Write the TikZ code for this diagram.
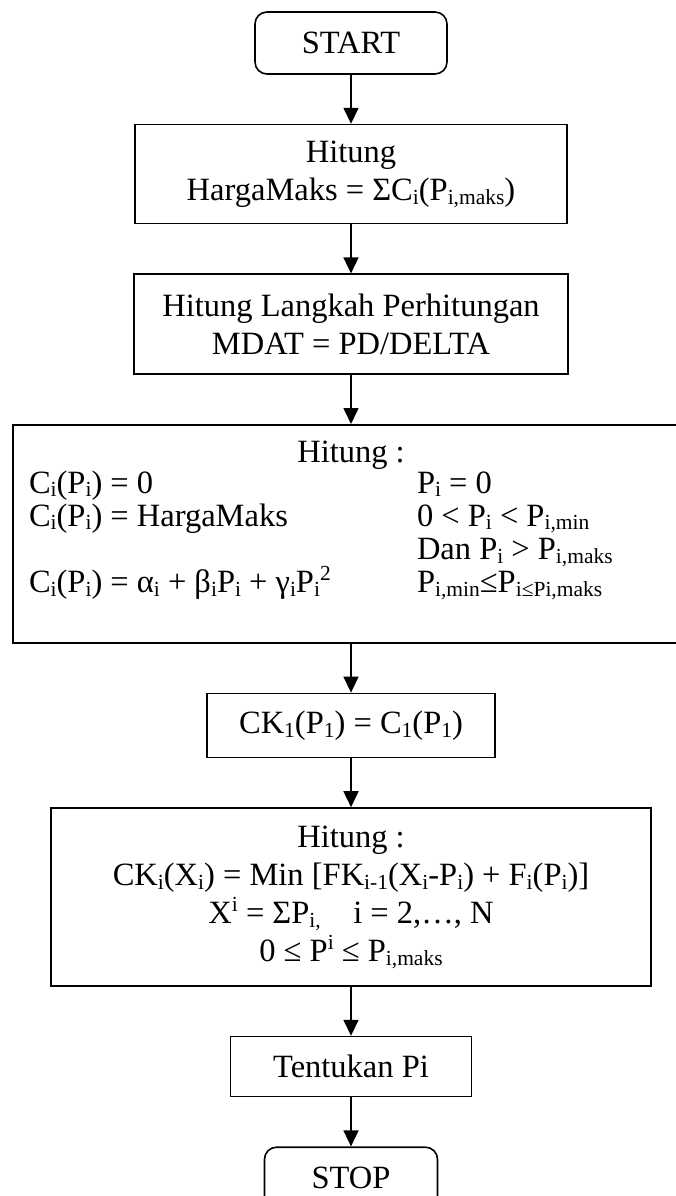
\documentclass[tikz,border=0pt]{standalone}
\usepackage{fontspec}
\setmainfont{Liberation Serif}
\usetikzlibrary{positioning,arrows.meta}

\newcommand{\lo}[1]{\raisebox{-0.12em}{\fontsize{21.5}{21.5}\selectfont #1}}
\newcommand{\up}[1]{\smash{\raisebox{0.36em}{\fontsize{21.5}{21.5}\selectfont #1}}}

\begin{document}
\begin{tikzpicture}[x=1pt, y=1pt, node distance=49pt, line width=1.6pt,
    font=\fontsize{32.5}{38}\selectfont,
    proc/.style = {draw, rectangle, align=center, inner sep=0pt},
    term/.style = {proc, rounded corners=12pt},
    txt/.style = {inner sep=0pt},
    arr/.style = {-{Triangle[width=15pt,length=16pt]}}]
    \clip (0,0) rectangle (676,-1196);

    \node[term, minimum width=192pt, minimum height=62pt] (start) at (351,-43) {START};
    \node[proc, minimum width=432pt, minimum height=99pt, below=of start] (hmaks)
        {Hitung\\HargaMaks = ΣC\lo{i}(P\lo{i,maks})};
    \node[proc, minimum width=434pt, minimum height=100pt, below=of hmaks] (langkah)
        {Hitung Langkah Perhitungan\\MDAT = PD/DELTA};
    \node[proc, minimum width=676pt, minimum height=218pt, below=of langkah] (calc) {};
    \node[txt, anchor=base] (calchd) at ([yshift=-38pt]calc.north) {Hitung :};
    \node[txt, anchor=base west] (calctab) at ([xshift=16pt, yshift=-69pt]calc.north west)
        {\renewcommand{\arraystretch}{0.87}%
         \begin{tabular}[t]{@{}p{388pt}@{}l@{}}
         C\lo{i}(P\lo{i}) = 0 & P\lo{i} = 0\\
         C\lo{i}(P\lo{i}) = HargaMaks & 0 < P\lo{i} < P\lo{i,min}\\
          & Dan P\lo{i} > P\lo{i,maks}\\
         C\lo{i}(P\lo{i}) = α\lo{i} + β\lo{i}P\lo{i} + γ\lo{i}P\lo{i}\up{2} & P\lo{i,min}≤P\lo{i≤Pi,maks}
         \end{tabular}};
    \node[proc, minimum width=288pt, minimum height=64pt, below=of calc] (ckone)
        {CK\lo{1}(P\lo{1}) = C\lo{1}(P\lo{1})};
    \node[proc, minimum width=600pt, minimum height=178pt, below=of ckone] (cki)
        {Hitung :\\CK\lo{i}(X\lo{i}) = Min [FK\lo{i-1}(X\lo{i}-P\lo{i}) + F\lo{i}(P\lo{i})]\\
         X\up{i} = ΣP\lo{i,}\quad i = 2,…, N\\
         0 ≤ P\up{i} ≤ P\lo{i,maks}};
    \node[proc, minimum width=241pt, minimum height=60pt, below=of cki] (tentu) {Tentukan Pi};
    \node[term, minimum width=173pt, minimum height=62pt, below=of tentu] (stop) {STOP};

    \draw[arr] (start) -- (hmaks);
    \draw[arr] (hmaks) -- (langkah);
    \draw[arr] (langkah) -- (calc);
    \draw[arr] (calc) -- (ckone);
    \draw[arr] (ckone) -- (cki);
    \draw[arr] (cki) -- (tentu);
    \draw[arr] (tentu) -- (stop);
\end{tikzpicture}
\end{document}
